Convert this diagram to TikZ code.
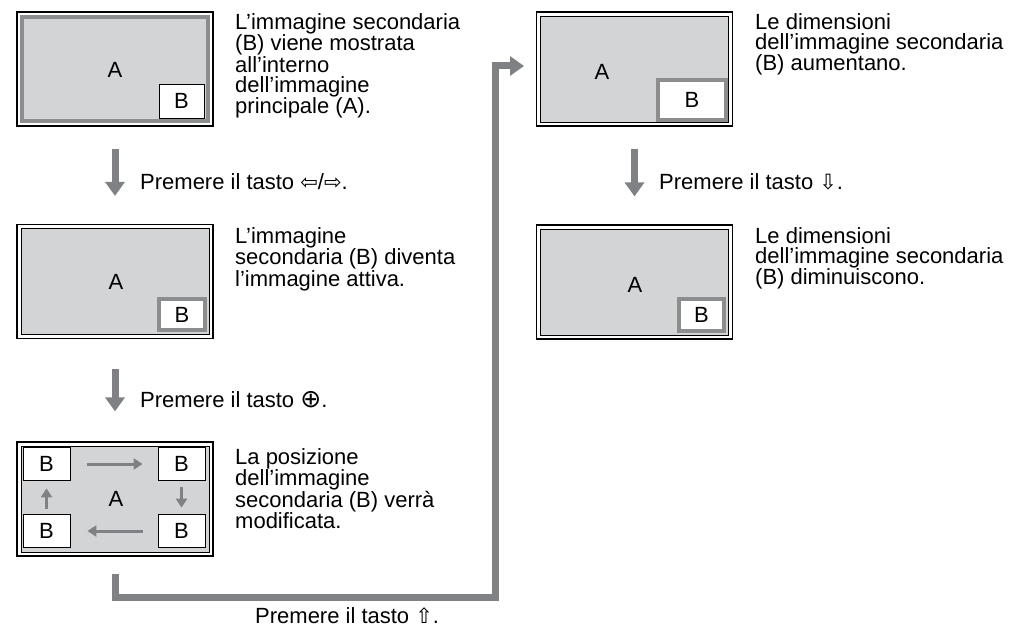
\documentclass[tikz,border=0pt]{standalone}
\usepackage{fontspec}
\setmainfont{Liberation Sans}
\newfontfamily\symfont{DejaVu Sans}
\usetikzlibrary{arrows.meta, positioning}

\definecolor{screengray}{HTML}{D3D4D6}
\definecolor{framegray}{HTML}{8C8D8F}
\definecolor{arrowgray}{HTML}{808184}

\newcommand{\keyglyph}[1]{{\symfont\fontsize{21}{20}\selectfont #1}}

\begin{document}
\begin{tikzpicture}[
    x = 1pt, y = -1pt,
    font = \fontsize{22}{20}\selectfont,
    tv/.style = {
      rectangle, draw = black, line width = 1.2pt, fill = white,
      minimum width = 196pt, minimum height = 114pt, inner sep = 0pt
    },
    screen/.style = {
      rectangle, draw = black, line width = 0.5pt, fill = screengray,
      minimum width = 188pt, minimum height = 106pt, inner sep = 0pt
    },
    screenact/.style = {screen, draw = framegray, line width = 4pt,
      minimum width = 186pt, minimum height = 104pt},
    subpic/.style = {rectangle, draw = black, line width = 0.8pt,
      fill = white, inner sep = 0pt},
    subact/.style = {rectangle, draw = framegray, line width = 4pt,
      fill = white, inner sep = 0pt},
    desc/.style   = {anchor = north west, align = left, inner sep = 0pt},
    keylbl/.style = {anchor = west, inner sep = 0pt},
    darr/.style = {-{Triangle[length=14pt, width=19pt]}, line width = 7pt, arrowgray},
    marr/.style = {-{Triangle[length=9pt, width=11pt]}, line width = 3pt, arrowgray}
  ]
    \useasboundingbox (0,0) rectangle (1014,628);

    % ── Screens, left column ────────────────────────────────────────────────
    \node[tv]        (tv1)  at (115,69) {};
    \node[screenact] (scr1) at (tv1.center) {};
    \node            (a1)   at (115,70) {A};
    \node[subpic, minimum width = 45pt, minimum height = 34pt] (b1) at (181.5,101) {B};

    \node[tv]     (tv2)  at (115,281.5) {};
    \node[screen] (scr2) at (tv2.center) {};
    \node         (a2)   at (116,282) {A};
    \node[subact, minimum width = 46pt, minimum height = 31pt] (b2) at (182,314.5) {B};

    \node[tv]     (tv3)  at (115,499) {};
    \node[screen] (scr3) at (tv3.center) {};
    \node         (a3)   at (116,499) {A};
    \node[subpic, minimum width = 47pt, minimum height = 33pt] (b3tl) at (46.5,464)  {B};
    \node[subpic, minimum width = 47pt, minimum height = 33pt] (b3tr) at (181.5,464) {B};
    \node[subpic, minimum width = 47pt, minimum height = 33pt] (b3bl) at (46.5,531)  {B};
    \node[subpic, minimum width = 47pt, minimum height = 33pt] (b3br) at (181.5,531) {B};

    % ── Screens, right column ───────────────────────────────────────────────
    \node[tv]     (tv4)  at (634.5,69) {};
    \node[screen] (scr4) at (tv4.center) {};
    \node         (a4)   at (602,72) {A};
    \node[subact, minimum width = 68pt, minimum height = 40pt] (b4) at (692,100) {B};

    \node[tv]     (tv5)  at (634.5,282) {};
    \node[screen] (scr5) at (tv5.center) {};
    \node         (a5)   at (635,285) {A};
    \node[subact, minimum width = 45pt, minimum height = 32pt] (b5) at (701.5,315) {B};

    % ── Descriptions ────────────────────────────────────────────────────────
    \node[desc] (t1) at (235,13)  {L’immagine secondaria\\(B) viene mostrata\\all’interno\\dell’immagine\\principale (A).};
    \node[desc] (t2) at (235,227) {L’immagine\\secondaria (B) diventa\\l’immagine attiva.};
    \node[desc] (t3) at (235,448) {La posizione\\dell’immagine\\secondaria (B) verrà\\modificata.};
    \node[desc] (t4) at (755,13)  {Le dimensioni\\dell’immagine secondaria\\(B) aumentano.};
    \node[desc] (t5) at (755,227) {Le dimensioni\\dell’immagine secondaria\\(B) diminuiscono.};

    % ── Key labels ──────────────────────────────────────────────────────────
    \node[keylbl] (k1) at (140,182) {Premere il tasto \keyglyph{⇦}/\keyglyph{⇨}.};
    \node[keylbl] (k2) at (140,400) {Premere il tasto {\symfont\fontsize{25}{20}\selectfont ⊕}.};
    \node[keylbl] (k3) at (659,182) {Premere il tasto \keyglyph{⇩}.};
    \node[keylbl] (k4) at (255,616) {Premere il tasto \keyglyph{⇧}.};

    % ── Arrows ──────────────────────────────────────────────────────────────
    \draw[darr, shorten <=22pt, shorten >=28pt] (tv1) -- (tv2);
    \draw[darr, shorten <=30pt, shorten >=30pt] (tv2) -- (tv3);
    \draw[darr, shorten <=22pt, shorten >=28pt] (tv4) -- (tv5);

    \draw[marr, shorten <=17pt, shorten >=15pt]    (b3tl) -- (b3tr);
    \draw[marr, shorten <=6.5pt, shorten >=6.5pt]  (b3tr) -- (b3br);
    \draw[marr, shorten <=15pt, shorten >=17pt]    (b3br) -- (b3bl);
    \draw[marr, shorten <=5.5pt, shorten >=7.5pt]  (b3bl) -- (b3tl);

    \coordinate (loopstart) at (115,574);
    \coordinate (loopturn)  at (495,597.5);
    \coordinate (loopend)   at (524,66);
    \draw[darr] (loopstart) |- (loopturn) |- (loopend);
\end{tikzpicture}
\end{document}
